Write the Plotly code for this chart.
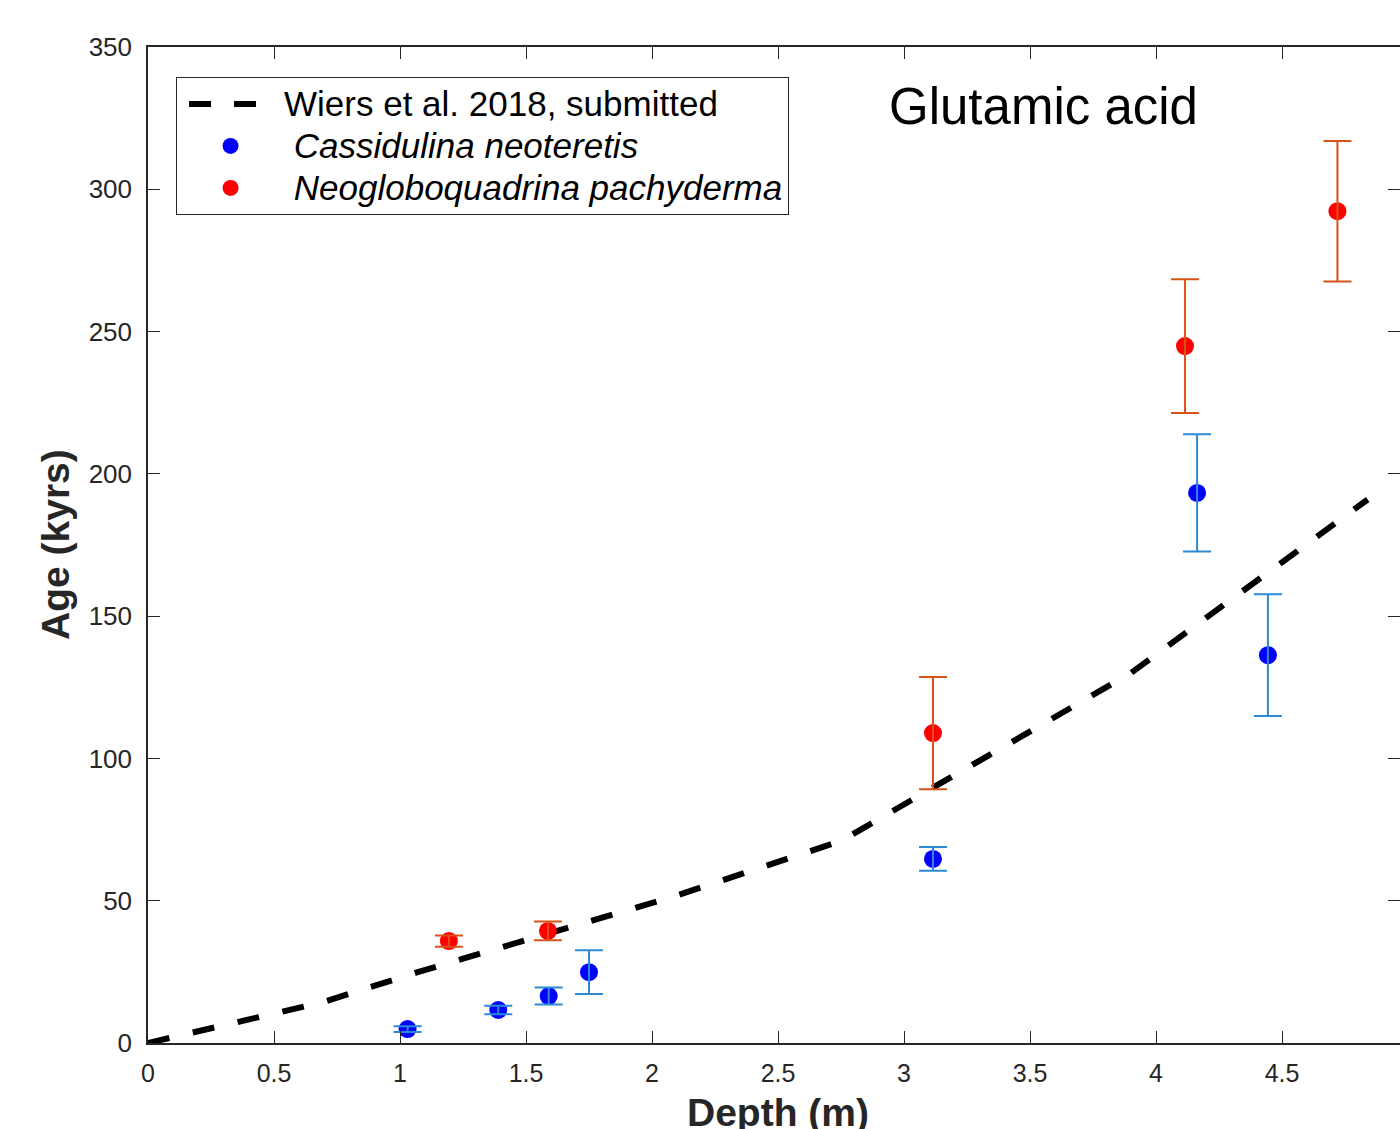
import plotly.graph_objects as go

# ---- data ----
line_depth = [0, 0.7, 1.07, 2.08, 2.75, 3.9, 4.84]
line_age = [0, 14.5, 24.9, 51.3, 71, 130, 191]

cn_depth = [1.03, 1.39, 1.59, 1.75, 3.115, 4.163, 4.444]
cn_age = [4.9, 11.6, 16.5, 24.9, 64.7, 193.3, 136.3]
cn_err = [1.0, 1.5, 3.0, 7.7, 4.2, 20.6, 21.4]

np_depth = [1.194, 1.587, 3.115, 4.115, 4.72]
np_age = [35.8, 39.4, 108.9, 244.9, 292.3]
np_err = [2.0, 3.3, 19.7, 23.5, 24.7]

x_ticks = [0, 0.5, 1, 1.5, 2, 2.5, 3, 3.5, 4, 4.5, 5]
y_ticks = [0, 50, 100, 150, 200, 250, 300, 350]

FONT = "Liberation Sans, Arial, Helvetica, sans-serif"
AXC = "#262626"
SPAN = '<span style="font-size:35px">{}</span>'

fig = go.Figure()

fig.add_trace(go.Scatter(
    x=line_depth, y=line_age, mode="lines",
    line=dict(color="black", width=6, dash="22px,24px"),
    name="Wiers et al. 2018, submitted", showlegend=False,
))
# legend-only entry for the dashed line (two dashes in the key)
fig.add_trace(go.Scatter(
    x=[None], y=[None], mode="lines",
    line=dict(color="black", width=6, dash="0px,7px,22px,23px,22px,300px"),
    name=SPAN.format("Wiers et al. 2018, submitted"),
))
fig.add_trace(go.Scatter(
    x=cn_depth, y=cn_age, mode="markers",
    marker=dict(color="#0000FF", size=18),
    name=SPAN.format("\u00a0<i>Cassidulina neoteretis</i>"),
))
fig.add_trace(go.Scatter(
    x=np_depth, y=np_age, mode="markers",
    marker=dict(color="#FF0000", size=18),
    name=SPAN.format("\u00a0<i>Neogloboquadrina pachyderma</i>"),
))
# error bars drawn above markers
fig.add_trace(go.Scatter(
    x=cn_depth, y=cn_age, mode="markers",
    marker=dict(size=1, opacity=0),
    error_y=dict(type="data", array=cn_err, visible=True,
                 color="#2B8AD3", thickness=2, width=14),
    showlegend=False, hoverinfo="skip",
))
fig.add_trace(go.Scatter(
    x=np_depth, y=np_age, mode="markers",
    marker=dict(size=1, opacity=0),
    error_y=dict(type="data", array=np_err, visible=True,
                 color="#D95319", thickness=2, width=14),
    showlegend=False, hoverinfo="skip",
))
# dummy trace for right-side tick axis
fig.add_trace(go.Scatter(x=[None], y=[None], yaxis="y2", showlegend=False,
                         hoverinfo="skip"))

fig.update_layout(
    width=1400, height=1129,
    margin=dict(l=148, r=0, t=47, b=86),
    paper_bgcolor="white", plot_bgcolor="white",
    font=dict(family=FONT, color=AXC),
    showlegend=True,
    legend=dict(
        x=0.0224, y=0.970, xanchor="left", yanchor="top",
        bgcolor="white", bordercolor=AXC, borderwidth=1,
        font=dict(size=30, color="black", family=FONT),
        itemwidth=97, tracegroupgap=0,
    ),
    xaxis=dict(
        range=[0, 1252 / 252], tickvals=x_ticks, ticktext=[str(v) for v in x_ticks],
        ticks="inside", ticklen=12, tickwidth=1, tickcolor=AXC,
        showline=True, linecolor=AXC, linewidth=1.5, mirror="ticks",
        showgrid=False, zeroline=False,
        tickfont=dict(size=25, color=AXC), ticklabelstandoff=7,
    ),
    yaxis=dict(
        range=[0, 350], tickvals=y_ticks,
        ticks="inside", ticklen=12, tickwidth=1, tickcolor=AXC,
        showline=True, linecolor=AXC, linewidth=1.5,
        showgrid=False, zeroline=False,
        tickfont=dict(size=26, color=AXC), ticklabelstandoff=9,
    ),
    yaxis2=dict(
        range=[0, 350], tickvals=y_ticks, overlaying="y", side="right",
        ticks="inside", ticklen=12, tickwidth=1, tickcolor=AXC,
        showline=False, showticklabels=False, showgrid=False, zeroline=False,
    ),
    annotations=[
        dict(text="Glutamic acid", xref="paper", yref="paper",
             x=(1043 - 148) / 1252, y=(1043 - 107) / 996,
             xanchor="center", yanchor="middle", showarrow=False,
             font=dict(size=51, color="black", family=FONT)),
        dict(text="<b>Depth (m)</b>", xref="paper", yref="paper",
             x=(778 - 148) / 1252, y=0, xanchor="center", yanchor="top",
             yshift=-46, showarrow=False,
             font=dict(size=39, color=AXC, family=FONT)),
        dict(text="<b>Age (kyrs)</b>", xref="paper", yref="paper",
             x=0, y=(1043 - 545) / 996, xanchor="center", yanchor="middle",
             xshift=-(148 - 55), textangle=-90, showarrow=False,
             font=dict(size=39, color=AXC, family=FONT)),
    ],
)

fig.write_html("out.html")
